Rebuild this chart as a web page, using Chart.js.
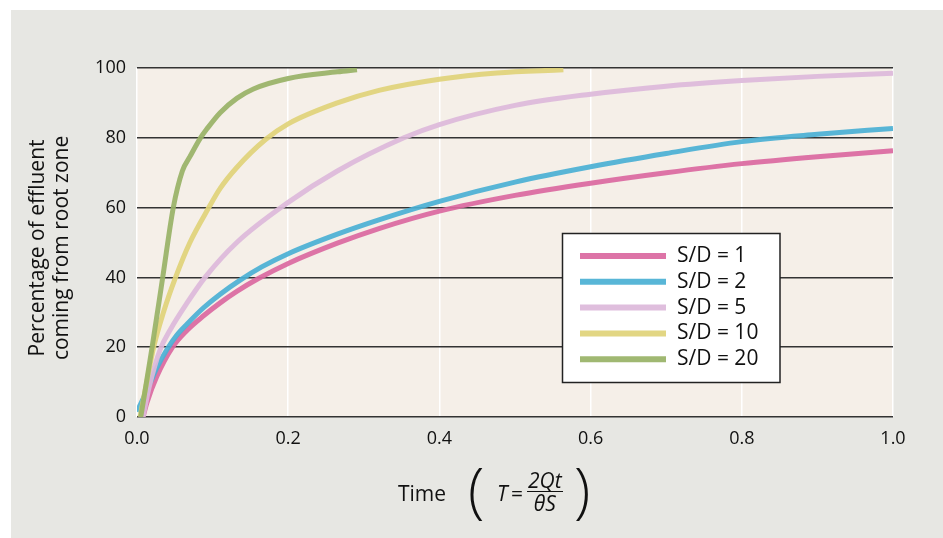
<!DOCTYPE html>
<html>
<head>
<meta charset="utf-8">
<script src="https://cdn.jsdelivr.net/npm/chart.js@4.4.1/dist/chart.umd.min.js"></script>
<style>
  html, body { margin: 0; padding: 0; background: #fff; }
  body { width: 943px; height: 538px; position: relative; overflow: hidden; font-family: 'Open Sans', sans-serif; color: #111; }
  #panel { position: absolute; left: 11px; top: 10px; width: 932px; height: 528px; background: #e7e7e3; }
  #chart { display: block; }
  .xt { position: absolute; font-size: 21px; line-height: 21px; white-space: nowrap; }
  .paren { position: absolute; font-size: 60px; line-height: 60px; font-weight: 300; }
  .frac { position: absolute; left: 527px; top: 469px; font-size: 21px; line-height: 22px; font-style: italic; text-align: center; }
  .frac span { display: block; padding: 0 1px; }
  .frac .num { border-bottom: 1.5px solid #111; }
</style>
</head>
<body>
<div id="panel"><canvas id="chart" width="932" height="528"></canvas></div>
<div class="xt" style="left:398px; top:483px;">Time</div>
<div class="paren" style="left:468px; top:459px;">(</div>
<div class="xt" style="left:497px; top:483px;"><i>T</i>&#8201;=</div>
<div class="frac"><span class="num">2Qt</span><span class="den">θS</span></div>
<div class="paren" style="left:574px; top:459px;">)</div>
<script>
// ── data (time T, % effluent from root zone) ──
const xTicks = [0, 0.2, 0.4, 0.6, 0.8, 1.0];
const yTicks = [0, 20, 40, 60, 80, 100];

const seriesLabels = ['S/D = 1', 'S/D = 2', 'S/D = 5', 'S/D = 10', 'S/D = 20'];

const tSD1 = [0.008, 0.013, 0.026, 0.047, 0.066, 0.088, 0.11, 0.132, 0.16, 0.2, 0.265, 0.32, 0.4, 0.5, 0.6, 0.7, 0.8, 0.9, 1.0];
const pSD1 = [0, 4, 11.5, 20, 24.8, 29, 32.7, 36, 39.6, 44, 49.8, 54, 59, 63.5, 67, 70, 72.6, 74.6, 76.3];

const tSD2 = [0, 0.013, 0.026, 0.04, 0.052, 0.066, 0.088, 0.11, 0.137, 0.165, 0.2, 0.265, 0.32, 0.4, 0.5, 0.6, 0.7, 0.8, 0.9, 1.0];
const pSD2 = [1.5, 7.5, 14, 19.5, 23.3, 26.6, 31.3, 35.2, 39.3, 43, 46.8, 52.4, 56.5, 61.8, 67.3, 71.7, 75.5, 78.9, 81, 82.7];

const tSD5 = [0.008, 0.016, 0.031, 0.044, 0.066, 0.09, 0.132, 0.2, 0.265, 0.353, 0.4, 0.5, 0.6, 0.7, 0.8, 0.9, 1.0];
const pSD5 = [0, 8.5, 19.5, 25, 32.6, 40, 50, 61.5, 70.5, 80, 83.8, 89.3, 92.5, 94.8, 96.4, 97.6, 98.5];

const tSD10 = [0.004, 0.012, 0.022, 0.035, 0.051, 0.07, 0.095, 0.11, 0.132, 0.17, 0.2, 0.265, 0.32, 0.4, 0.476, 0.564];
const pSD10 = [0, 9, 20, 30, 40, 50, 60, 65.5, 71.5, 79.5, 84, 90, 93.6, 96.8, 98.6, 99.5];

const tSD20 = [0.005, 0.02, 0.034, 0.048, 0.06, 0.07, 0.084, 0.093, 0.11, 0.132, 0.154, 0.2, 0.265, 0.291];
const pSD20 = [0, 20, 40, 60, 70.5, 74.6, 80, 82.7, 87.2, 91.3, 94, 97, 98.9, 99.5];

const COLORS = {
  pink:   'rgba(218,104,160,0.92)',
  blue:   'rgba(74,176,212,0.92)',
  lilac:  'rgba(220,184,218,0.92)',
  yellow: 'rgba(224,210,120,0.92)',
  green:  'rgba(152,178,102,0.92)',
  plotBg: '#f5efe8',
  grid:   '#333333',
  text:   '#111111'
};

function pts(ts, ps) { return ts.map((t, i) => ({ x: t, y: ps[i] })); }

const seriesPts = [pts(tSD1, pSD1), pts(tSD2, pSD2), pts(tSD5, pSD5), pts(tSD10, pSD10), pts(tSD20, pSD20)];
const seriesColors = [COLORS.pink, COLORS.blue, COLORS.lilac, COLORS.yellow, COLORS.green];
const seriesOrder = [4, 3, 2, 1, 0];

Chart.defaults.font.family = 'Open Sans';
Chart.defaults.color = COLORS.text;

// ── plot background ──
const plotBg = {
  id: 'plotBg',
  beforeDraw(chart) {
    const { ctx, chartArea: { left, top, width, height } } = chart;
    ctx.save();
    ctx.fillStyle = COLORS.plotBg;
    ctx.fillRect(left, top, width, height);
    ctx.restore();
  }
};

// ── boxed legend inside the plot ──
const boxLegend = {
  id: 'boxLegend',
  afterDraw(chart) {
    const { ctx } = chart;
    const bx = 551.5, by = 223.5, bw = 217.5, bh = 149;
    ctx.save();
    ctx.fillStyle = '#fff';
    ctx.fillRect(bx, by, bw, bh);
    ctx.strokeStyle = '#222';
    ctx.lineWidth = 1.5;
    ctx.strokeRect(bx, by, bw, bh);
    ctx.font = '21px Open Sans';
    ctx.textBaseline = 'middle';
    ctx.textAlign = 'left';
    chart.data.datasets.forEach((ds, i) => {
      const y = 246 + i * 25.8;
      ctx.strokeStyle = ds.borderColor;
      ctx.lineWidth = 6;
      ctx.beginPath();
      ctx.moveTo(569, y);
      ctx.lineTo(655, y);
      ctx.stroke();
      ctx.fillStyle = COLORS.text;
      ctx.fillText(ds.label, 666, y);
    });
    ctx.restore();
  }
};

new Chart(document.getElementById('chart'), {
  type: 'line',
  data: {
    datasets: seriesLabels.map((label, i) => ({
      label,
      data: seriesPts[i],
      borderColor: seriesColors[i],
      borderWidth: 5,
      pointRadius: 0,
      fill: false,
      cubicInterpolationMode: 'monotone',
      borderCapStyle: 'butt',
      order: seriesOrder[i]
    }))
  },
  options: {
    responsive: false,
    animation: false,
    layout: { padding: { left: 0, top: 58, right: 50, bottom: 0 } },
    plugins: {
      legend: { display: false },
      tooltip: { enabled: false }
    },
    scales: {
      x: {
        type: 'linear',
        min: 0,
        max: 1,
        afterBuildTicks: s => { s.ticks = xTicks.map(v => ({ value: v })); },
        afterFit: s => { s.height = 121; },
        ticks: {
          padding: 11,
          font: { size: 18 },
          color: COLORS.text,
          callback: v => v.toFixed(1)
        },
        grid: { color: '#ffffff', lineWidth: 1.5, drawTicks: false },
        border: { display: false }
      },
      y: {
        min: 0,
        max: 100,
        afterBuildTicks: s => { s.ticks = yTicks.map(v => ({ value: v })); },
        afterFit: s => { s.width = 126; },
        ticks: {
          padding: 11,
          font: { size: 18 },
          color: COLORS.text
        },
        grid: { color: COLORS.grid, lineWidth: 1.6, drawTicks: false },
        border: { display: false },
        title: {
          display: true,
          // trailing spaces nudge the rotated title a little lower, as in the original
          text: ['Percentage of effluent  ', 'coming from root zone  '],
          font: { size: 21, lineHeight: '24px' },
          color: COLORS.text,
          padding: { top: 15.5, bottom: 0 }
        }
      }
    }
  },
  plugins: [plotBg, boxLegend]
});
</script>
</body>
</html>
